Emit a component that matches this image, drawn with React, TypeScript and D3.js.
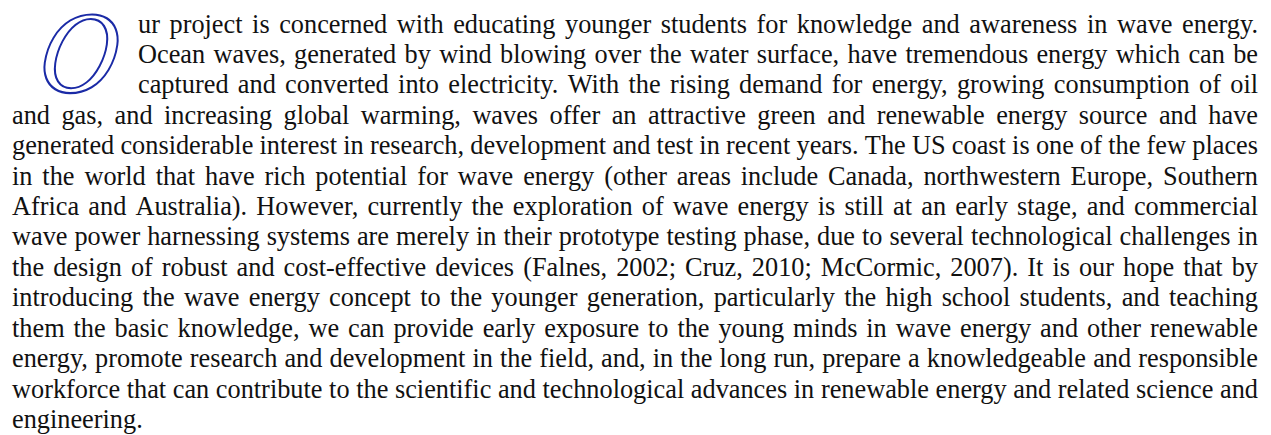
import React, { useRef, useEffect } from 'react';
import * as d3 from 'd3';

// drop cap letter and the three lines that sit beside it
const dropCap = 'O';
const introLines = [
  'ur project is concerned with educating younger students for knowledge and awareness in wave energy.',
  'Ocean waves, generated by wind blowing over the water surface, have tremendous energy which can be',
  'captured and converted into electricity. With the rising demand for energy, growing consumption of oil',
];

// full-width lines below the drop cap
const bodyLines = [
  'and gas, and increasing global warming, waves offer an attractive green and renewable energy source and have',
  'generated considerable interest in research, development and test in recent years. The US coast is one of the few places',
  'in the world that have rich potential for wave energy (other areas include Canada, northwestern Europe, Southern',
  'Africa and Australia). However, currently the exploration of wave energy is still at an early stage, and commercial',
  'wave power harnessing systems are merely in their prototype testing phase, due to several technological challenges in',
  'the design of robust and cost-effective devices (Falnes, 2002; Cruz, 2010; McCormic, 2007). It is our hope that by',
  'introducing the wave energy concept to the younger generation, particularly the high school students, and teaching',
  'them the basic knowledge, we can provide early exposure to the young minds in wave energy and other renewable',
  'energy, promote research and development in the field, and, in the long run, prepare a knowledgeable and responsible',
  'workforce that can contribute to the scientific and technological advances in renewable energy and related science and',
  'engineering.',
];

const W = 1271;
const H = 435;

const App = () => {
  const svgRef = useRef<SVGSVGElement>(null);

  useEffect(() => {
    const svg = d3.select(svgRef.current);
    svg.selectAll('*').remove();

    const fontFamily = '"Liberation Serif", "Times New Roman", serif';
    const fontSize = 26.3;
    const left = 12;
    const capLeft = 138;
    const right = 1258;

    const lines = [
      ...introLines.map(t => ({ text: t, x0: capLeft })),
      ...bodyLines.map(t => ({ text: t, x0: left })),
    ];

    // baseline of each line
    const y = d3.scaleLinear()
      .domain([0, lines.length - 1])
      .range([32.5, 428]);

    const body = svg.append('g')
      .attr('font-family', fontFamily)
      .attr('font-size', fontSize)
      .attr('fill', '#111');

    // justified: spread the spare width over the word gaps, last line ragged
    lines.forEach((line, i) => {
      const words = line.text.split(' ');
      const row = body.append('g');
      const nodes = words.map(w => row.append('text')
        .attr('y', y(i))
        .text(w));
      const widths = nodes.map(n => (n.node() as SVGTextElement).getComputedTextLength());
      const total = d3.sum(widths);
      const isLast = i === lines.length - 1;
      const gap = isLast || words.length < 2
        ? fontSize * 0.25
        : (right - line.x0 - total) / (words.length - 1);
      let x = line.x0;
      nodes.forEach((n, k) => {
        n.attr('x', x);
        x += widths[k] + gap;
      });
    });

    // drop cap: outlined italic O so it reads as a thin swash ring
    const capSize = 120;
    const cap = svg.append('text')
      .attr('font-family', fontFamily)
      .attr('font-style', 'italic')
      .attr('font-size', capSize)
      .attr('fill', 'none')
      .attr('stroke', '#1a2aa6')
      .attr('stroke-width', 2.2)
      .attr('x', 0)
      .attr('y', 0)
      .text(dropCap);
    const bb = (cap.node() as SVGTextElement).getBBox();
    const box = { x: 41, y: 11, w: 78, h: 82 };
    const inkTop = -capSize * 0.69;
    const inkH = capSize * 0.70;
    const sx = box.w / bb.width;
    const sy = box.h / inkH;
    const skew = -8;
    // skew pushes the top right; pull it back so the ring stays centred
    const shift = -Math.tan((-skew * Math.PI) / 180) * (box.h / 2);
    cap.attr('transform',
      `translate(${box.x - bb.x * sx + shift},${box.y - inkTop * sy}) skewX(${skew}) scale(${sx},${sy})`);
  }, []);

  return (
    <svg
      ref={svgRef}
      width={W}
      height={H}
      style={{ position: 'absolute', left: 0, top: 0, background: '#fff' }}
    />
  );
};

export default App;
